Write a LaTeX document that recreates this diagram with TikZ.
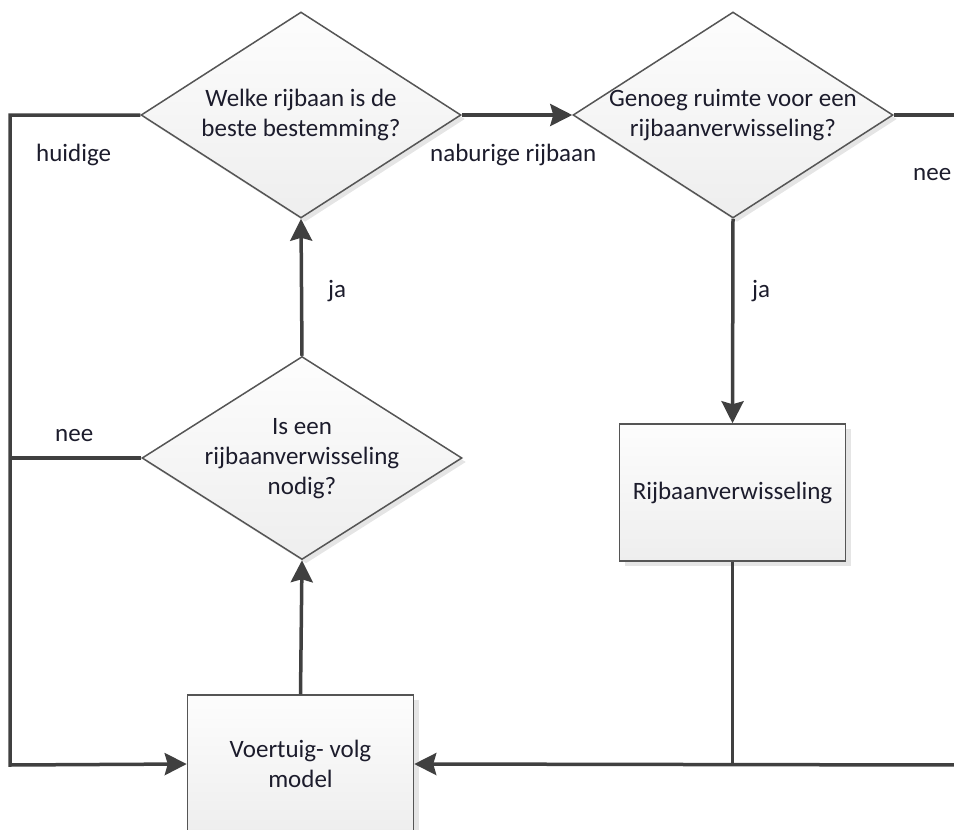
\documentclass[tikz,border=0pt]{standalone}
\usepackage{fontspec}
\setmainfont{Carlito}
\usetikzlibrary{shapes.geometric,arrows.meta,shadows}
\definecolor{txtcol}{RGB}{28,28,44}
\definecolor{linecol}{RGB}{64,64,64}
\definecolor{edgecol}{RGB}{85,85,85}
\definecolor{filltop}{RGB}{253,253,253}
\definecolor{fillbot}{RGB}{238,238,238}
\newcommand{\zerotext}[1]{\smash{\makebox[0pt]{\raisebox{-7pt}{\begin{tabular}{@{}c@{}}#1\end{tabular}}}}}
\begin{document}
\begin{tikzpicture}[x=1pt,y=-1pt,
  txt/.style={font=\fontsize{25}{30}\selectfont, text=txtcol},
  dec/.style={shape=diamond, draw=edgecol, line width=1.5pt, top color=filltop, bottom color=fillbot,
    inner sep=0pt, minimum width=320pt, minimum height=206pt, txt,
    drop shadow={shadow xshift=4pt,shadow yshift=-4pt,fill=black!10,opacity=1}},
  proc/.style={rectangle, draw=edgecol, line width=1.5pt, top color=filltop, bottom color=fillbot,
    inner sep=0pt, minimum width=226pt, align=center, txt,
    drop shadow={shadow xshift=5pt,shadow yshift=-5pt,fill=black!10,opacity=1}},
  conn/.style={draw=linecol, line width=3.5pt},
  arr/.style={conn, -{Stealth[length=22pt,width=22pt,inset=3pt]}},
  lbl/.style={txt, inner sep=0pt}]
\path[use as bounding box, clip] (0,0) rectangle (954,830);

\node[dec] (d1) at (301,115) {\zerotext{Welke rijbaan is de\\beste bestemming?}};
\node[dec] (d2) at (733,115) {\zerotext{Genoeg ruimte voor een\\rijbaanverwisseling?}};
\node[dec, minimum height=203pt] (d3) at (302,458) {\zerotext{Is een\\rijbaanverwisseling\\nodig?}};
\node[proc, minimum height=137pt] (r) at (732.5,492.5) {Rijbaanverwisseling};
\node[proc, minimum height=138pt] (v) at (300.5,764) {Voertuig- volg\\model};

\coordinate (L1) at (10,115);
\coordinate (L3) at (10,458);
\coordinate (LB) at (10,765);
\coordinate (R1) at (960,115);
\coordinate (RB) at (960,765);
\coordinate (J) at (732.5,765);

\draw[arr] (d1.west) -- (L1) -- (LB) -- (v.west);
\draw[conn] (d3.west) -- (L3);
\draw[arr] (d1.east) -- (d2.west);
\draw[conn] (d2.east) -- (R1);
\draw[arr] (d2.south) -- (r.north);
\draw[conn] (r.south) -- (J);
\draw[arr] (RB) -- (v.east);
\draw[arr] (v.north) -- (d3.south);
\draw[arr] (d3.north) -- (d1.south);

\node[lbl, anchor=base west] (lh) at (36,161) {huidige};
\node[lbl, anchor=base west] (ln) at (430,161) {naburige rijbaan};
\node[lbl, anchor=base west] (lnr) at (913,180) {nee};
\node[lbl, anchor=base west] (lj1) at (328,297) {ja};
\node[lbl, anchor=base west] (lj2) at (752,297) {ja};
\node[lbl, anchor=base west] (lnl) at (55,441) {nee};
\end{tikzpicture}
\end{document}
